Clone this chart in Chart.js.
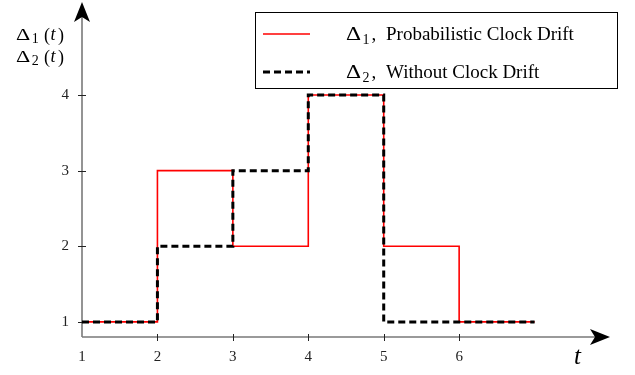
<!DOCTYPE html>
<html>
<head>
<meta charset="utf-8">
<script src="https://cdn.jsdelivr.net/npm/chart.js@4"></script>
<style>
    html, body { margin: 0; padding: 0; background: #fff; }
    #wrap { width: 635px; height: 375px; }
</style>
</head>
<body>
<div id="wrap"><canvas id="chart"></canvas></div>
<script>
// data
const times = [1, 2, 3, 4, 5, 6, 7];
const delta1 = [1, 3, 2, 4, 2, 1, 1];
const delta2 = [1, 2, 3, 4, 1, 1, 1];
const xTicks = [1, 2, 3, 4, 5, 6];
const yTicks = [1, 2, 3, 4];
const seriesNames = ['Probabilistic Clock Drift', 'Without Clock Drift'];

const SERIF = '"Liberation Serif", "DejaVu Serif", serif';

function toPoints(ys) {
    return times.map((t, i) => ({ x: t, y: ys[i] }));
}

// wide TeX-like Δ with a subscript, returns x after the subscript
function drawDelta(ctx, x, y, sub, size) {
    ctx.save();
    ctx.font = size + 'px ' + SERIF;
    ctx.translate(x, y);
    ctx.scale(1.3, 1);
    ctx.fillText('Δ', 0, 0);
    const w = ctx.measureText('Δ').width * 1.3;
    ctx.restore();
    x += w + 1.5;
    ctx.font = Math.round(size * 0.8) + 'px ' + SERIF;
    ctx.fillText(sub, x, y + size * 0.2);
    return x + ctx.measureText(sub).width;
}

function arrowHead(ctx, x, y, dir) {
    // stealth-style arrow, dir: 'up' or 'right'
    ctx.save();
    ctx.translate(x, y);
    if (dir === 'right') ctx.rotate(Math.PI / 2);
    ctx.beginPath();
    ctx.moveTo(0, 0);
    ctx.lineTo(-8, 20);
    ctx.lineTo(0, 15);
    ctx.lineTo(8, 20);
    ctx.closePath();
    ctx.fillStyle = '#000';
    ctx.fill();
    ctx.restore();
}

const axesPlugin = {
    id: 'axesPlugin',
    beforeDatasetsDraw(chart) {
        const ctx = chart.ctx;
        const xs = chart.scales.x, ys = chart.scales.y;
        const area = chart.chartArea;
        ctx.save();
        ctx.strokeStyle = '#7a7a7a';
        ctx.lineWidth = 1.6;
        ctx.beginPath();
        ctx.moveTo(area.left, area.bottom);
        ctx.lineTo(area.right - 8, area.bottom);
        ctx.moveTo(area.left, area.bottom);
        ctx.lineTo(area.left, area.top + 8);
        ctx.stroke();

        // tick marks crossing the axes
        ctx.strokeStyle = '#222';
        ctx.lineWidth = 1;
        ctx.beginPath();
        xTicks.forEach(v => {
            if (v === xs.min) return;
            const px = Math.round(xs.getPixelForValue(v)) + 0.5;
            ctx.moveTo(px, area.bottom - 3);
            ctx.lineTo(px, area.bottom + 4);
        });
        yTicks.forEach(v => {
            const py = Math.round(ys.getPixelForValue(v)) + 0.5;
            ctx.moveTo(area.left - 4, py);
            ctx.lineTo(area.left + 4, py);
        });
        ctx.stroke();
        ctx.restore();
    },
    afterDraw(chart) {
        const ctx = chart.ctx;
        const area = chart.chartArea;
        ctx.save();
        arrowHead(ctx, area.left, area.top, 'up');
        arrowHead(ctx, area.right, area.bottom, 'right');

        ctx.fillStyle = '#000';
        ctx.textBaseline = 'alphabetic';
        ctx.textAlign = 'left';

        // y axis title
        [['1', 40], ['2', 62]].forEach(([s, by]) => {
            drawDelta(ctx, 16, by, s, 17);
            ctx.font = '18px ' + SERIF;
            ctx.fillText('(', 44, by + 1);
            ctx.font = 'italic 18px ' + SERIF;
            ctx.fillText('t', 50.5, by);
            ctx.font = '18px ' + SERIF;
            ctx.fillText(')', 58, by + 1);
        });

        // x axis title
        ctx.font = 'italic 25px ' + SERIF;
        ctx.fillText('t', 574, 364);

        // legend box
        ctx.strokeStyle = '#000';
        ctx.lineWidth = 1;
        ctx.strokeRect(255.5, 12.5, 362, 76);

        const ds = chart.data.datasets;
        const rows = [34, 72];
        ds.forEach((d, i) => {
            const y = rows[i];
            ctx.save();
            ctx.strokeStyle = d.borderColor;
            ctx.lineWidth = d.borderWidth;
            ctx.setLineDash(d.borderDash || []);
            ctx.beginPath();
            ctx.moveTo(263, y);
            ctx.lineTo(310, y);
            ctx.stroke();
            ctx.restore();
            ctx.fillStyle = '#000';
            const by = y + 6;
            const x = drawDelta(ctx, 346, by, String(i + 1), 18);
            ctx.font = '19px ' + SERIF;
            ctx.fillText(',', x + 2, by);
            ctx.fillText(seriesNames[i], 386, by);
        });
        ctx.restore();
    }
};

const ctx = document.getElementById('chart').getContext('2d');
new Chart(ctx, {
    type: 'line',
    data: {
        datasets: [
            {
                label: seriesNames[0],
                data: toPoints(delta1),
                borderColor: '#ff0000',
                borderWidth: 1.6,
                stepped: 'before',
                pointRadius: 0,
                fill: false,
                order: 1
            },
            {
                label: seriesNames[1],
                data: toPoints(delta2),
                borderColor: '#000000',
                borderWidth: 3,
                borderDash: [7, 4],
                stepped: 'before',
                pointRadius: 0,
                fill: false,
                order: 0
            }
        ]
    },
    options: {
        responsive: true,
        maintainAspectRatio: false,
        animation: false,
        layout: { padding: { left: 0, right: 25, top: 2, bottom: 0 } },
        plugins: {
            legend: { display: false },
            tooltip: { enabled: false }
        },
        scales: {
            x: {
                type: 'linear',
                min: 1,
                max: 8,
                afterBuildTicks: (s) => { s.ticks = xTicks.map(v => ({ value: v })); },
                afterFit: (s) => { s.height = 38; s.paddingLeft = 0; s.paddingRight = 0; },
                grid: { display: false, drawTicks: false },
                border: { display: false },
                ticks: {
                    padding: 11,
                    color: '#222',
                    font: { family: SERIF, size: 15 }
                }
            },
            y: {
                type: 'linear',
                min: 0.8,
                max: 5.23,
                afterBuildTicks: (s) => { s.ticks = yTicks.map(v => ({ value: v })); },
                afterFit: (s) => { s.width = 82; s.paddingTop = 0; s.paddingBottom = 0; },
                grid: { display: false, drawTicks: false },
                border: { display: false },
                ticks: {
                    padding: 13,
                    color: '#222',
                    font: { family: SERIF, size: 15 }
                }
            }
        }
    },
    plugins: [axesPlugin]
});
</script>
</body>
</html>
